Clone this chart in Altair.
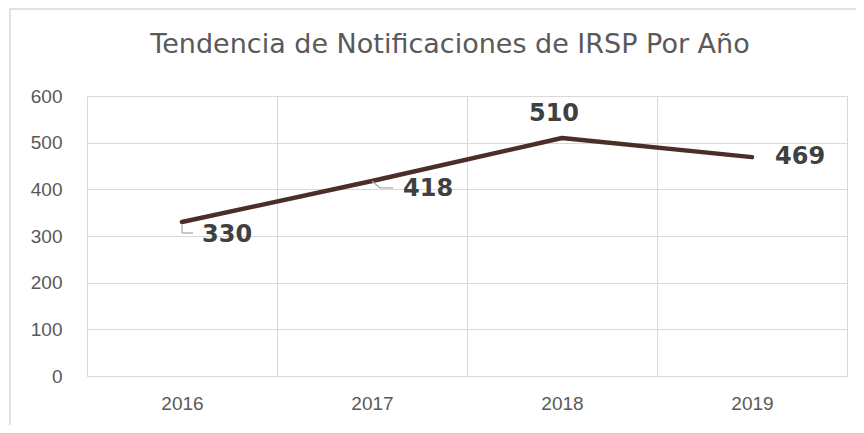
import altair as alt
import pandas as pd

title_text = "Tendencia de Notificaciones de IRSP Por Año"
years = ["2016", "2017", "2018", "2019"]
counts = [330, 418, 510, 469]
y_ticks = [0, 100, 200, 300, 400, 500, 600]

df = pd.DataFrame({"year": years, "count": counts})

GRID = "#d9d9d9"
LINE = "#4B2E28"
LABEL = "#404040"
AXIS_TXT = "#595959"
LEADER = "#a6a6a6"

x_enc = alt.X("year:N", sort=years,
              scale=alt.Scale(type="band", paddingInner=0, paddingOuter=0),
              axis=alt.Axis(title=None, labelAngle=0, ticks=False, domain=False,
                            grid=True, gridColor=GRID, tickBand="extent",
                            labelFont="Liberation Sans", labelFontSize=19,
                            labelColor=AXIS_TXT, labelPadding=18))
y_enc = alt.Y("count:Q",
              scale=alt.Scale(domain=[0, 600], nice=False),
              axis=alt.Axis(title=None, values=y_ticks, ticks=False, domain=False,
                            gridColor=GRID, labelFont="Liberation Sans",
                            labelFontSize=19, labelColor=AXIS_TXT, labelPadding=25))

base = alt.Chart(df)
first = base.transform_filter(alt.datum.year == "2016")

border = first.mark_rect(fill=None, stroke=GRID, strokeWidth=1.5, clip=False).encode(
    x=alt.value(-77), x2=alt.value(1200), y=alt.value(-87), y2=alt.value(800)
)

title = first.mark_text(
    text=title_text, font="DejaVu Sans", fontSize=27, color=AXIS_TXT,
    align="center", baseline="alphabetic"
).encode(x=alt.value(363), y=alt.value(-43))

line = base.mark_line(color=LINE, strokeWidth=4.5, strokeCap="round",
                      strokeJoin="round").encode(x=x_enc, y=y_enc)

# label placement (style, pixel offsets)
label_style = {
    "2016": dict(align="left", dx=20, dy=13),
    "2017": dict(align="left", dx=31, dy=8),
    "2018": dict(align="center", dx=-8, dy=-24),
    "2019": dict(align="left", dx=23, dy=0),
}
texts = []
for yr, st in label_style.items():
    texts.append(
        base.transform_filter(alt.datum.year == yr).mark_text(
            font="DejaVu Sans", fontSize=24, fontWeight="bold", color=LABEL,
            baseline="middle", **st
        ).encode(x=alt.X("year:N", sort=years), y="count:Q", text="count:Q")
    )

# leader lines: (year, xOffset, yOffset, x2Offset, y2Offset)
leaders = [
    ("2016", 0, 3, 0, 11),
    ("2016", 0, 11, 11, 11),
    ("2017", 0, 0, 8, 7),
    ("2017", 8, 7, 21, 7),
]
rules = []
for yr, xo, yo, x2o, y2o in leaders:
    rules.append(
        base.transform_filter(alt.datum.year == yr).mark_rule(
            color=LEADER, strokeWidth=1.2,
            xOffset=xo, yOffset=yo, x2Offset=x2o, y2Offset=y2o
        ).encode(x=alt.X("year:N", sort=years), x2="year:N",
                 y="count:Q", y2="count:Q")
    )

chart = alt.layer(border, title, line, *rules, *texts).properties(
    width=760, height=280,
    autosize=alt.AutoSizeParams(type="none"),
    padding={"left": 79, "top": 88, "right": 9, "bottom": 49},
).configure_view(stroke=GRID, strokeWidth=1).configure(background="white")

chart.save("out.html", embed_options={"renderer": "svg", "actions": False})
